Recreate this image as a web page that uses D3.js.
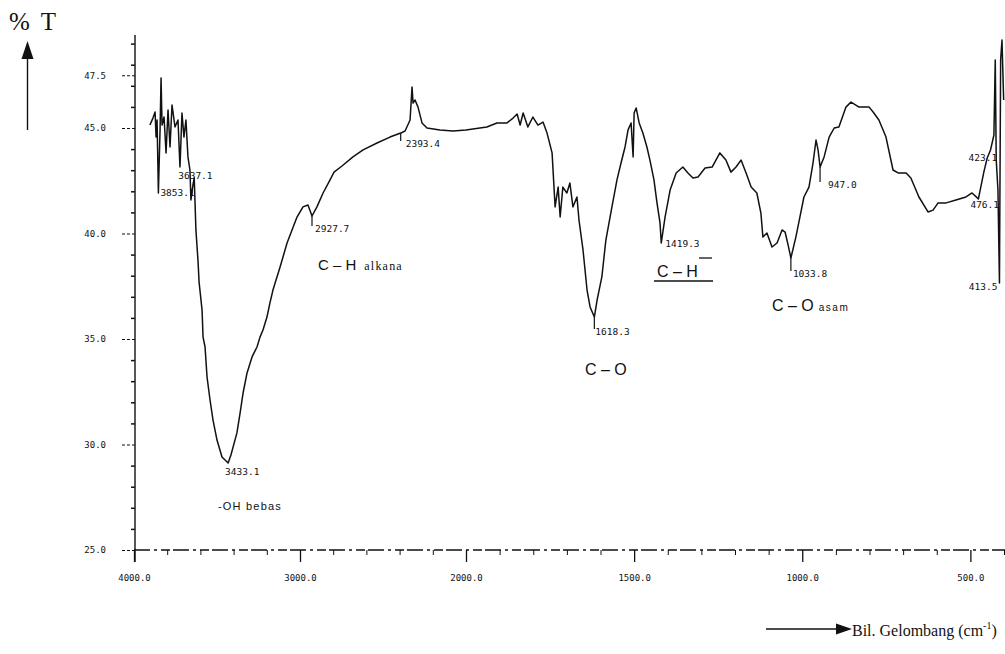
<!DOCTYPE html>
<html>
<head>
<meta charset="utf-8">
<script src="https://cdn.jsdelivr.net/npm/d3@7"></script>
<style>
  body { margin: 0; background: #fff; }
  svg { display: block; }
</style>
</head>
<body>
<svg id="chart" width="1005" height="654"></svg>
<script>
// FTIR spectrum: wavenumber (cm-1) vs. transmittance (%T)
const wavenumber = [
  3904, 3886, 3873, 3867, 3861, 3853.1, 3843, 3837, 3831, 3819, 3807, 3795, 3783, 3771, 3753, 3735,
  3723, 3711, 3699, 3687, 3675, 3663, 3657, 3645, 3637.1, 3627, 3614, 3608, 3590, 3584, 3572, 3560,
  3542, 3524, 3500, 3470, 3433.1, 3416, 3380, 3361, 3343, 3319, 3289, 3259, 3241, 3223, 3199, 3181,
  3163, 3120, 3078, 3018, 2982, 2952, 2927.7, 2898, 2861, 2819, 2795, 2747, 2681, 2620, 2536, 2458,
  2393.4, 2367, 2337, 2325, 2319, 2307, 2289, 2265, 2235, 2157, 2078, 2000, 1938, 1908, 1878, 1860,
  1848, 1839, 1830, 1816, 1801, 1786, 1771, 1759, 1744, 1735, 1726, 1720, 1712, 1700, 1691, 1682,
  1670, 1664, 1652, 1640, 1631, 1618.3, 1610, 1596, 1584, 1566, 1551, 1539, 1527, 1518, 1509, 1503,
  1500, 1494, 1485, 1474, 1462, 1453, 1441, 1432, 1423, 1419.3, 1408, 1393, 1375, 1355, 1340, 1325,
  1310, 1289, 1268, 1245, 1227, 1212, 1197, 1182, 1167, 1152, 1135, 1123, 1117, 1105, 1090, 1075,
  1060, 1051, 1042, 1033.8, 1019, 1007, 995, 980, 968, 959, 953, 947.0, 935, 920, 905, 891,
  870, 855, 831, 801, 787, 772, 751, 730, 715, 691, 677, 653, 626, 611, 596, 572,
  543, 513, 495, 476.1, 460, 450, 440, 430, 426, 423.1, 418, 413.5, 410, 406, 401
];
const transmittance = [
  45.14, 45.47, 45.76, 44.57, 45.38, 41.92, 44.91, 47.37, 45.14, 45.52, 43.82, 45.85, 44.10, 46.09, 45.05, 45.38,
  43.15, 45.71, 44.57, 45.38, 43.63, 43.01, 41.59, 42.30, 42.63, 40.17, 38.65, 37.70, 36.37, 35.09, 34.62, 33.20,
  32.11, 31.16, 30.21, 29.41, 29.12, 29.50, 30.55, 31.49, 32.44, 33.39, 34.15, 34.62, 35.09, 35.43, 36.04, 36.71,
  37.32, 38.41, 39.55, 40.78, 41.26, 41.35, 40.83, 41.26, 41.92, 42.54, 42.91, 43.20, 43.63, 43.96, 44.29, 44.57,
  44.76, 44.86, 45.38, 46.94, 46.18, 46.33, 45.99, 45.24, 45.00, 44.91, 44.86, 44.91, 45.05, 45.24, 45.24, 45.47,
  45.66, 45.14, 45.71, 45.05, 45.52, 45.14, 45.28, 44.76, 43.82, 41.26, 42.20, 40.78, 42.20, 41.92, 42.39, 41.26,
  41.73, 40.64, 39.22, 37.32, 36.52, 36.04, 36.85, 37.94, 39.69, 41.26, 42.54, 43.34, 44.10, 44.91, 45.24, 43.63,
  45.71, 45.95, 45.24, 44.76, 44.10, 43.48, 42.54, 41.45, 40.50, 39.55, 40.78, 42.06, 42.87, 43.15, 42.87, 42.63,
  42.68, 43.10, 43.15, 43.82, 43.48, 42.91, 43.15, 43.48, 42.87, 42.20, 41.92, 40.97, 39.83, 40.02, 39.36, 39.55,
  40.17, 40.07, 39.45, 38.84, 39.83, 40.78, 41.73, 42.20, 43.34, 44.43, 43.96, 43.15, 43.63, 44.57, 45.00, 45.05,
  45.99, 46.23, 45.99, 45.99, 45.71, 45.38, 44.57, 43.01, 42.87, 42.87, 42.63, 41.73, 41.02, 41.11, 41.45, 41.45,
  41.59, 41.73, 41.92, 41.64, 42.91, 43.58, 43.96, 44.67, 48.22, 43.48, 42.06, 37.65, 48.22, 49.17, 46.33
];

// wavenumbers printed beside the curve
const peakWavenumbers = [3853.1, 3637.1, 3433.1, 2927.7, 2393.4, 1618.3, 1419.3, 1033.8, 947.0, 476.1, 423.1, 413.5];

// axis ticks
const xTickValues = [4000, 3000, 2000, 1500, 1000, 500];
const xTickLabels = ["4000.0", "3000.0", "2000.0", "1500.0", "1000.0", "500.0"];
const yTickValues = [25, 30, 35, 40, 45, 47.5];
const yTickLabels = ["25.0", "30.0", "35.0", "40.0", "45.0", "47.5"];

// band assignments
const bandNames = ["-OH bebas", "C – H", "alkana", "C – O", "C – H", "C – O", "asam"];

const svg = d3.select("#chart");
const ink = "#111";

// Shimadzu-style split abscissa: 4000–2000 compressed, 2000–400 expanded
const x = d3.scaleLinear().domain([4000, 2000, 400]).range([134, 466, 1004]);
const y = d3.scaleLinear().domain([25, 45]).range([550, 128]);

// ---- x axis ----
const xMinor = d3.range(4000, 2000, -200).concat(d3.range(2000, 399, -100))
  .filter(v => !xTickValues.includes(v));

const gx = svg.append("g").attr("transform", `translate(0,${y(25)})`);
gx.call(d3.axisBottom(x).tickValues(xTickValues).tickFormat((d, i) => xTickLabels[i])
  .tickSize(12).tickPadding(13));
gx.select(".domain").remove();
gx.selectAll(".tick line").attr("stroke", ink).attr("stroke-width", 1.3);
gx.selectAll(".tick text")
  .attr("font-family", "DejaVu Sans Mono, monospace")
  .attr("font-size", 9).attr("fill", ink);

const gxm = svg.append("g").attr("transform", `translate(0,${y(25)})`);
gxm.call(d3.axisBottom(x).tickValues(xMinor).tickSize(5).tickFormat(""));
gxm.select(".domain").remove();
gxm.selectAll(".tick line").attr("stroke", ink).attr("stroke-width", 1);

svg.append("line")
  .attr("x1", x(4000)).attr("x2", 1005)
  .attr("y1", y(25)).attr("y2", y(25))
  .attr("stroke", ink).attr("stroke-width", 1.3)
  .attr("stroke-dasharray", "16,4,3,4,9,3");

// ---- y axis ----
const yMinor = d3.range(25, 50, 1).filter(v => !yTickValues.includes(v));

const gy = svg.append("g").attr("transform", `translate(${x(4000) + 1},0)`);
gy.call(d3.axisLeft(y).tickValues(yTickValues).tickFormat((d, i) => yTickLabels[i])
  .tickSize(15).tickPadding(14));
gy.select(".domain").remove();
gy.selectAll(".tick line").attr("stroke", ink).attr("stroke-width", 1.2)
  .attr("stroke-dasharray", "3,2");
gy.selectAll(".tick text")
  .attr("font-family", "DejaVu Sans Mono, monospace")
  .attr("font-size", 9).attr("fill", ink);

const gym = svg.append("g").attr("transform", `translate(${x(4000) + 1},0)`);
gym.call(d3.axisLeft(y).tickValues(yMinor).tickSize(4).tickFormat(""));
gym.select(".domain").remove();
gym.selectAll(".tick line").attr("stroke", ink).attr("stroke-width", 1.5);

svg.append("line")
  .attr("x1", x(4000) + 1).attr("x2", x(4000) + 1)
  .attr("y1", 35).attr("y2", y(25) + 12)
  .attr("stroke", ink).attr("stroke-width", 1.4);

// ---- spectrum ----
const points = wavenumber.map((w, i) => [w, transmittance[i]]);
const line = d3.line().x(d => x(d[0])).y(d => y(d[1])).curve(d3.curveLinear);

svg.append("path")
  .datum(points)
  .attr("d", line)
  .attr("fill", "none")
  .attr("stroke", ink)
  .attr("stroke-width", 1.5)
  .attr("stroke-linejoin", "round");

// ---- peak labels ----
// placement of each printed value relative to its point
const placement = {
  3853.1: { dx: 2, dy: 3, anchor: "start", lead: false },
  3637.1: { dx: -16, dy: 1, anchor: "start", lead: false },
  3433.1: { dx: -3, dy: 12, anchor: "start", lead: false },
  2927.7: { dx: 3, dy: 16, anchor: "start", lead: true },
  2393.4: { dx: 5, dy: 14, anchor: "start", lead: true },
  1618.3: { dx: 1, dy: 18, anchor: "start", lead: true },
  1419.3: { dx: 4, dy: 4, anchor: "start", lead: false },
  1033.8: { dx: 2, dy: 19, anchor: "start", lead: true },
  947.0: { dx: 8, dy: 21, anchor: "start", lead: true },
  476.1: { dx: -8, dy: 9, anchor: "start", lead: false },
  423.1: { dx: 1, dy: 1, anchor: "end", lead: false },
  413.5: { dx: -2, dy: 7, anchor: "end", lead: false }
};

const peakG = svg.append("g");
peakWavenumbers.forEach(w => {
  const i = wavenumber.indexOf(w);
  const px = x(w), py = y(transmittance[i]);
  const p = placement[w];
  if (p.lead) {
    peakG.append("line")
      .attr("x1", px).attr("x2", px)
      .attr("y1", py).attr("y2", py + p.dy - 6)
      .attr("stroke", ink).attr("stroke-width", 1.2);
  }
  peakG.append("text")
    .attr("x", px + p.dx).attr("y", py + p.dy)
    .attr("text-anchor", p.anchor)
    .attr("font-family", "DejaVu Sans Mono, monospace")
    .attr("font-size", 9.5)
    .attr("fill", ink)
    .text(w.toFixed(1));
});

// ---- band assignments ----
const sans = "Liberation Sans, Arial, sans-serif";
const band = svg.append("g").attr("fill", ink).attr("font-family", sans);

band.append("text").attr("x", 218).attr("y", 510)
  .attr("font-size", 11).attr("letter-spacing", 1.2).text(bandNames[0]);

const t1 = band.append("text").attr("x", 318).attr("y", 270).attr("font-size", 15);
t1.append("tspan").text(bandNames[1]);
t1.append("tspan").attr("dx", 8).attr("font-size", 12)
  .attr("font-family", "Liberation Serif, serif").attr("letter-spacing", 1.2).text(bandNames[2]);

band.append("text").attr("x", 585).attr("y", 375).attr("font-size", 16).text(bandNames[3]);

band.append("text").attr("x", 657).attr("y", 277).attr("font-size", 16).text(bandNames[4]);
band.append("line").attr("x1", 654).attr("x2", 713).attr("y1", 281).attr("y2", 281)
  .attr("stroke", ink).attr("stroke-width", 1.3);
band.append("line").attr("x1", 699).attr("x2", 712).attr("y1", 258).attr("y2", 258)
  .attr("stroke", ink).attr("stroke-width", 1.3);

const t2 = band.append("text").attr("x", 772).attr("y", 311).attr("font-size", 16);
t2.append("tspan").text(bandNames[5]);
t2.append("tspan").attr("dx", 5).attr("font-size", 10).attr("letter-spacing", 1.5).text(bandNames[6]);

// ---- axis titles ----
const serif = "Liberation Serif, Times New Roman, serif";
const yt = svg.append("text").attr("x", 9).attr("y", 30)
  .attr("font-family", serif).attr("font-size", 25).attr("fill", ink);
yt.append("tspan").text("%");
yt.append("tspan").attr("dx", 11).text("T");

svg.append("line").attr("x1", 27.5).attr("x2", 27.5).attr("y1", 55).attr("y2", 130)
  .attr("stroke", ink).attr("stroke-width", 1.4);
svg.append("path").attr("d", "M27.5,41 L21.5,59 L33.5,59 Z").attr("fill", ink);

svg.append("line").attr("x1", 766).attr("x2", 840).attr("y1", 629).attr("y2", 629)
  .attr("stroke", ink).attr("stroke-width", 1.4);
svg.append("path").attr("d", "M852,629 L836,623.5 L836,634.5 Z").attr("fill", ink);

const xt = svg.append("text").attr("x", 852).attr("y", 636)
  .attr("font-family", serif).attr("font-size", 16).attr("fill", ink);
xt.append("tspan").text("Bil. Gelombang (cm");
xt.append("tspan").attr("font-size", 10).attr("dy", -7).text("-1");
xt.append("tspan").attr("dy", 7).text(")");
</script>
</body>
</html>
